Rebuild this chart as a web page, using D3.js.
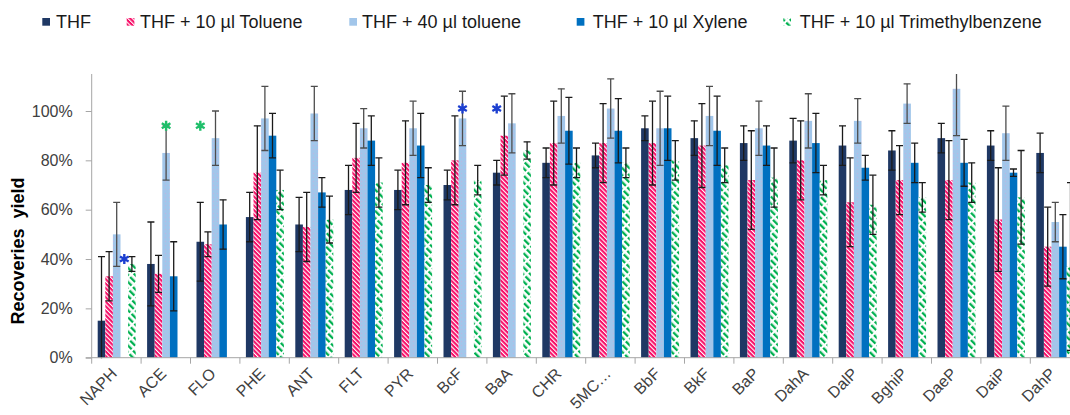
<!DOCTYPE html>
<html lang="en">
<head>
<meta charset="UTF-8">
<title>Recoveries yield</title>
<script src="https://d3js.org/d3.v7.min.js"></script>
<style>
  html, body { margin: 0; padding: 0; background: #fff; overflow: hidden; }
  svg { display: block; font-family: "Liberation Sans", Arial, sans-serif; }
  .axis text { fill: #404040; font-size: 16px; }
  .axis path, .axis line { stroke: #a6a6a6; }
</style>
</head>
<body>
<script>
// ---- data (percent) ----
const categories = ["NAPH", "ACE", "FLO", "PHE", "ANT", "FLT", "PYR", "BcF", "BaA", "CHR",
                    "5MC\u2026", "BbF", "BkF", "BaP", "DahA", "DalP", "BghiP", "DaeP", "DaiP", "DahP"];
const seriesNames = ["THF", "THF + 10 \u00b5l Toluene", "THF + 40 \u00b5l toluene",
                     "THF + 10 \u00b5l Xylene", "THF + 10 \u00b5l Trimethylbenzene"];

const thf      = [15, 38, 47, 57, 54, 68, 68, 70, 75, 79, 82, 93, 89, 87, 88, 86, 84, 89, 86, 83];
const thfErr   = [26, 17, 16, 10, 11, 10, 8, 6, 5, 6, 5, 5, 7, 7, 9, 8, 8, 6, 6, 8];
const tol10    = [33, 34, 46, 75, 53, 81, 79, 80, 90, 87, 87, 87, 86, 72, 80, 63, 72, 72, 56, 45];
const tol10Err = [10, 7.5, 5, 19, 14, 14, 17, 18, 16, 17, 16, 17, 17, 20, 16, 18, 14, 16, 21, 16];
const tol40    = [50, 83, 89, 97, 99, 93, 93, 97, 95, 98, 101, 93, 98, 93, 96, 96, 103, 109, 91, 55];
const tol40Err = [13, 11, 11, 13, 11, 8, 11, 11, 12, 11, 12, 15, 12, 11, 11, 9, 8, 19, 11, 8];
const xyl      = [null, 33, 54, 90, 67, 88, 86, null, null, 92, 92, 93, 92, 86, 87, 77, 79, 79, 75, 45];
const xylErr   = [0, 14, 10, 9, 6, 10, 13, 0, 0, 13.5, 13, 13, 14, 8, 12, 5, 8, 9.5, 1.5, 13];
const tmb      = [38, null, null, 68, 56, 71, 70, 72, 84, 79, 79, 80, 78, 73, 72, 62, 65, 71, 65, 37];
const tmbErr   = [3, 0, 0, 8, 9.5, 10, 7, 6, 3.5, 6, 6, 8, 7, 12, 6, 12, 6, 8, 19, 34];

// asterisks marking missing results
const starCats   = ["NAPH", "ACE", "FLO", "BcF", "BaA"];
const starSlot   = [3, 2, 0, 2, 0];
const starSeries = [3, 4, 4, 3, 3];
const starValue  = [40, 94, 94, 101, 101];

const yTicks = [0, 0.2, 0.4, 0.6, 0.8, 1];

// ---- layout ----
const width = 1070, height = 415;
const x0 = 91.7, step = 49.4, yBase = 357.7, yTop = 74;

const values = [thf, tol10, tol40, xyl, tmb];
const errors = [thfErr, tol10Err, tol40Err, xylErr, tmbErr];

const svg = d3.select("body").append("svg")
    .attr("width", width)
    .attr("height", height);

const defs = svg.append("defs");

// light blue with faint dots
const pLight = defs.append("pattern").attr("id", "pLight")
    .attr("patternUnits", "userSpaceOnUse").attr("width", 4).attr("height", 4);
pLight.append("rect").attr("width", 4).attr("height", 4).attr("fill", "#a2c6ea");
pLight.append("rect").attr("x", 1).attr("y", 1).attr("width", 1).attr("height", 1).attr("fill", "#bcb6e0");

// pink with thin white diagonal stripes
const pPink = defs.append("pattern").attr("id", "pPink")
    .attr("patternUnits", "userSpaceOnUse").attr("width", 3.2).attr("height", 10)
    .attr("patternTransform", "rotate(-45)");
pPink.append("rect").attr("width", 3.2).attr("height", 10).attr("fill", "#f70f68");
pPink.append("rect").attr("width", 1.1).attr("height", 10).attr("fill", "#fff");

// green dashed diagonal stripes on white
const pGreen = defs.append("pattern").attr("id", "pGreen")
    .attr("patternUnits", "userSpaceOnUse").attr("width", 5).attr("height", 9)
    .attr("patternTransform", "rotate(-45)");
pGreen.append("rect").attr("width", 5).attr("height", 9).attr("fill", "#fff");
pGreen.append("rect").attr("x", 0).attr("y", 0).attr("width", 2.3).attr("height", 7).attr("fill", "#00b050");

const fills = ["#1f3864", "url(#pPink)", "url(#pLight)", "#0070c0", "url(#pGreen)"];
const errColor = ["#1a1a1a", "#1a1a1a", "#4d4d4d", "#1a1a1a", "#1a1a1a"];

defs.append("clipPath").attr("id", "plot")
  .append("rect").attr("x", 0).attr("y", yTop).attr("width", width + 20).attr("height", yBase - yTop + 0.5);

// ---- scales ----
const x = d3.scaleBand().domain(categories).range([x0, x0 + step * categories.length]);
const xs = d3.scaleBand().domain(d3.range(5)).range([6, 44]);
const y = d3.scaleLinear().domain([0, 1.15]).range([yBase, yTop]);

// ---- bars ----
const rows = [];
categories.forEach((c, i) => {
  values.forEach((s, k) => {
    if (s[i] != null) rows.push({ cat: c, k: k, v: s[i] / 100, e: errors[k][i] / 100 });
  });
});

svg.append("g").selectAll("rect")
  .data(rows).join("rect")
    .attr("x", d => x(d.cat) + xs(d.k))
    .attr("y", d => y(d.v))
    .attr("width", xs.bandwidth())
    .attr("height", d => yBase - y(d.v))
    .attr("fill", d => fills[d.k]);

// ---- error bars ----
const eg = svg.append("g").attr("clip-path", "url(#plot)");
rows.filter(d => d.e > 0).forEach(d => {
  const cx = x(d.cat) + xs(d.k) + xs.bandwidth() / 2;
  const hi = y(d.v + d.e), lo = y(d.v - d.e);
  const g = eg.append("g").attr("stroke", errColor[d.k]).attr("stroke-width", 1.3);
  g.append("line").attr("x1", cx).attr("x2", cx).attr("y1", hi).attr("y2", lo);
  g.append("line").attr("x1", cx - 3.5).attr("x2", cx + 3.5).attr("y1", hi).attr("y2", hi);
  g.append("line").attr("x1", cx - 3.5).attr("x2", cx + 3.5).attr("y1", lo).attr("y2", lo);
});

// ---- asterisks ----
svg.append("g").selectAll("path")
  .data(starCats.map((c, i) => ({ cat: c, slot: starSlot[i], s: starSeries[i], v: starValue[i] / 100 })))
  .join("path")
    .attr("d", d3.symbol(d3.symbolAsterisk, 70))
    .attr("transform", d => `translate(${x(d.cat) + xs(d.slot) + xs.bandwidth() / 2},${y(d.v)})`)
    .attr("fill", "none")
    .attr("stroke", d => d.s === 3 ? "#1c3fd0" : "#1fbf6a")
    .attr("stroke-width", 2.4);

// ---- axes ----
const yAxis = svg.append("g").attr("class", "axis")
    .attr("transform", `translate(${x0},0)`)
    .call(d3.axisLeft(y).tickValues(yTicks).tickFormat(d3.format(".0%"))
      .tickSize(6).tickSizeOuter(0).tickPadding(13));
yAxis.select(".domain").attr("d", `M0,${yTop}V${yBase}`);

const xa = svg.append("g").attr("class", "axis");
xa.append("line").attr("x1", x0 - 6).attr("x2", width + 20)
  .attr("y1", yBase).attr("y2", yBase).attr("stroke", "#a6a6a6");
xa.selectAll("line.tk")
  .data(categories.concat([null]))
  .join("line").attr("class", "tk")
    .attr("x1", d => d ? x(d) : x0 + step * categories.length)
    .attr("x2", d => d ? x(d) : x0 + step * categories.length)
    .attr("y1", yBase).attr("y2", yBase + 6)
    .attr("stroke", "#a6a6a6");
xa.selectAll("text")
  .data(categories).join("text")
    .attr("text-anchor", "end")
    .attr("font-size", 16.5)
    .attr("transform", d => `translate(${x(d) + x.bandwidth() / 2 + 1.5},${yBase + 17}) rotate(-45)`)
    .text(d => d);

// y title
svg.append("text")
  .attr("transform", `translate(24,251) rotate(-90)`)
  .attr("text-anchor", "middle")
  .attr("font-weight", "bold")
  .attr("font-size", 18)
  .attr("fill", "#000")
  .style("white-space", "pre")
  .text("Recoveries  yield");

// ---- legend ----
const legX = [42.3, 126.7, 349.3, 576.7, 783.3];
const leg = svg.append("g").selectAll("g")
  .data(seriesNames).join("g")
    .attr("transform", (d, i) => `translate(${legX[i]},0)`);
leg.append("rect")
    .attr("x", 0).attr("y", 18).attr("width", 7.7).attr("height", 7.7)
    .attr("fill", (d, i) => i === 2 ? "#a2c6ea" : fills[i]);
leg.append("text")
    .attr("x", (d, i) => [13.7, 13.3, 12.7, 16, 16.4][i])
    .attr("y", 28.3)
    .attr("font-size", 18)
    .attr("fill", "#1a1a1a")
    .text(d => d);
</script>
</body>
</html>
